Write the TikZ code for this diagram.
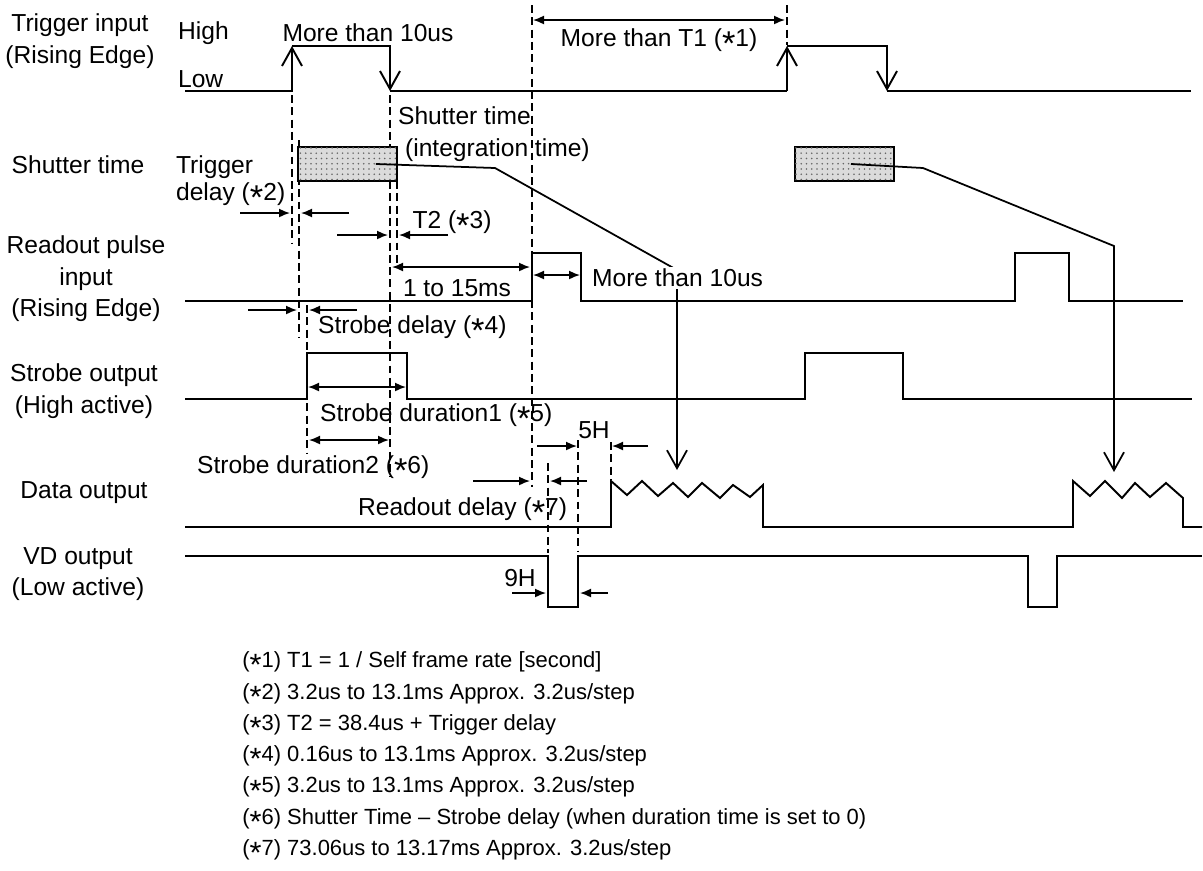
\documentclass[tikz,border=0pt]{standalone}
\usepackage{fontspec}
\setmainfont{Liberation Sans}
\usetikzlibrary{arrows.meta,calc,patterns}
\pgfdeclarelayer{background}
\pgfdeclarelayer{foreground}
\pgfsetlayers{background,main,foreground}

\newcommand{\Ast}{\smash{\raisebox{-0.7ex}{\scalebox{1.4}{*}}}}

\tikzset{
  sig/.style={line width=1.1pt},
  guide/.style={line width=0.8pt, dash pattern=on 4.5pt off 2.5pt},
  dim/.style={line width=0.9pt, -{Latex[length=2.2mm,width=1.8mm]}},
  dimboth/.style={line width=0.9pt, {Latex[length=2.2mm,width=1.8mm]}-{Latex[length=2.2mm,width=1.8mm]}},
  edgearrow/.style={line width=1.1pt, -{Straight Barb[length=3.6mm,width=4mm]}},
  conn/.style={line width=1pt, -{Straight Barb[length=3.6mm,width=4mm]}},
  shutbox/.style={draw, line width=1.1pt, fill=gray!28, minimum width=1.98cm, minimum height=0.68cm,
    inner sep=0pt, postaction={pattern=dots, pattern color=black!60}},
  lbl/.style={inner sep=1pt, font=\fontsize{14}{18}\selectfont},
}

\begin{document}
\begin{tikzpicture}[x=0.02cm, y=-0.02cm]
\useasboundingbox (0,0) rectangle (1203,870);

\coordinate (DataA) at (677,470);
\coordinate (DataB) at (1114,472);

% signal names
\node[lbl, align=center] (TrigName) at (80,41) {Trigger input\\(Rising Edge)};
\node[lbl] (ShutName) at (78,165) {Shutter time};
\node[lbl, align=center] (ReadName) at (86,279) {Readout pulse\\input\\(Rising Edge)};
\node[lbl, align=center] (StrbName) at (84,391) {Strobe output\\(High active)};
\node[lbl] (DataName) at (84,493) {Data output};
\node[lbl, align=center] (VDName) at (78,574) {VD output\\(Low active)};
\node[lbl, anchor=west] (High) at (176,33) {High};
\node[lbl, anchor=west] (Low) at (176,79) {Low};

\begin{pgfonlayer}{background}
  \draw[guide] (292,95) -- (292,243);% trigger rise
  \draw[guide] (299,140) -- (299,338);% shutter start
  \draw[guide] (307,305) -- (307,453);% strobe start
  \draw[guide] (390,95) -- (390,477);% trigger fall
  \draw[guide] (397,181) -- (397,268);% shutter end
  \draw[guide] (532,5) -- (532,487);% readout pulse
  \draw[guide] (548,463) -- (548,553);
  \draw[guide] (578,440) -- (578,552);
  \draw[guide] (611,442) -- (611,480);
  \draw[guide] (787,5) -- (787,45);
\end{pgfonlayer}

% trigger input
\draw[edgearrow] (185,91) -- (292,91) -- (292,46);
\draw[edgearrow] (292,46) -- (390,46) -- (390,91);
\draw[sig] (390,91) -- (787,91);
\draw[edgearrow] (787,91) -- (787,46);
\draw[edgearrow] (787,46) -- (887,46) -- (887,91);
\draw[sig] (887,91) -- (1191,91);

% shutter
\node[shutbox] (ShutA) at (347.5,164) {};
\node[shutbox] (ShutB) at (844.5,164) {};

% readout pulse, strobe, data, VD
\draw[sig] (185,301) -- (532,301) -- (532,253) -- (581,253) -- (581,301) -- (1015,301)
  -- (1015,253) -- (1069,253) -- (1069,301) -- (1183,301);
\draw[sig] (185,399) -- (307,399) -- (307,353) -- (407,353) -- (407,399) -- (805,399)
  -- (805,353) -- (903,353) -- (903,399) -- (1192,399);
\draw[sig] (185,527) -- (611,527) -- (611,481) -- (627,495) -- (642,481) -- (658,496)
  -- (673,483) -- (688,497) -- (702,483) -- (720,498) -- (733,485) -- (750,497)
  -- (763,485) -- (763,527) -- (1073,527) -- (1073,481) -- (1090,496) -- (1105,481)
  -- (1122,498) -- (1135,483) -- (1150,497) -- (1166,483) -- (1183,498) -- (1183,527)
  -- (1202,527);
\draw[sig] (185,556) -- (548,556) -- (548,607) -- (578,607) -- (578,556) -- (1028,556)
  -- (1028,607) -- (1057,607) -- (1057,556) -- (1202,556);

% shutter to data
\draw[conn] ([xshift=-0.44cm]ShutA.east) -- (495,168) -- (677,270) -- (DataA);
\draw[conn] ([xshift=-0.88cm]ShutB.east) -- (923,168) -- (1114,246) -- (DataB);

% timings
\draw[dimboth] (533,20) -- (785,20);
\node[lbl] (T1Text) at (659,40) {More than T1 (\Ast1)};
\node[lbl] (HighText) at (368,33) {More than 10us};
\node[lbl, anchor=west, align=left] (ShutText) at (396,134) {Shutter time\\\hspace*{4pt}(integration time)};
\node[lbl, anchor=west, align=left, font=\fontsize{14}{15.3}\selectfont] (TDText) at (174,181) {Trigger\\delay (\Ast2)};
\draw[dim] (240,213) -- (290,213);
\draw[dim] (349,213) -- (301,213);
\draw[dim] (337,235) -- (388,235);
\draw[dim] (448,235) -- (399,235);
\node[lbl] (T2Text) at (452,222) {T2 (\Ast3)};
\draw[dimboth] (392,267) -- (530,267);
\node[lbl] (RangeText) at (457,288) {1 to 15ms};
\draw[dimboth] (533,275) -- (580,275);
\node[lbl, anchor=west, fill=white] (PulseText) at (590,278) {More than 10us};
\draw[dim] (248,310) -- (297,310);
\draw[dim] (357,310) -- (309,310);
\node[lbl, anchor=west] (SDText) at (316,327) {Strobe delay (\Ast4)};
\draw[dimboth] (308,387) -- (406,387);
\node[lbl, anchor=west] (SD1Text) at (318,415) {Strobe duration1 (\Ast5)};
\draw[dimboth] (309,440) -- (389,440);
\node[lbl, anchor=west] (SD2Text) at (195,467) {Strobe duration2 (\Ast6)};
\draw[dim] (537,446) -- (577,446);
\draw[dim] (648,446) -- (612,446);
\node[lbl] (FiveH) at (594,430) {5H};
\draw[dim] (473,481) -- (530,481);
\draw[dim] (587,481) -- (550,481);
\node[lbl, anchor=west] (RDText) at (356,509) {Readout delay (\Ast7)};
\draw[dim] (512,593) -- (546,593);
\draw[dim] (608,593) -- (580,593);
\node[lbl] (NineH) at (520,578) {9H};

% notes
\node[lbl, anchor=west, align=left, inner sep=0pt, font=\fontsize{12.5}{17.8}\selectfont] (Notes) at (242,756) {%
(\Ast1) T1 = 1 / Self frame rate [second]\\
(\Ast2) 3.2us to 13.1ms Approx. 3.2us/step\\
(\Ast3) T2 = 38.4us + Trigger delay\\
(\Ast4) 0.16us to 13.1ms Approx. 3.2us/step\\
(\Ast5) 3.2us to 13.1ms Approx. 3.2us/step\\
(\Ast6) Shutter Time – Strobe delay (when duration time is set to 0)\\
(\Ast7) 73.06us to 13.17ms Approx. 3.2us/step};
\end{tikzpicture}
\end{document}
